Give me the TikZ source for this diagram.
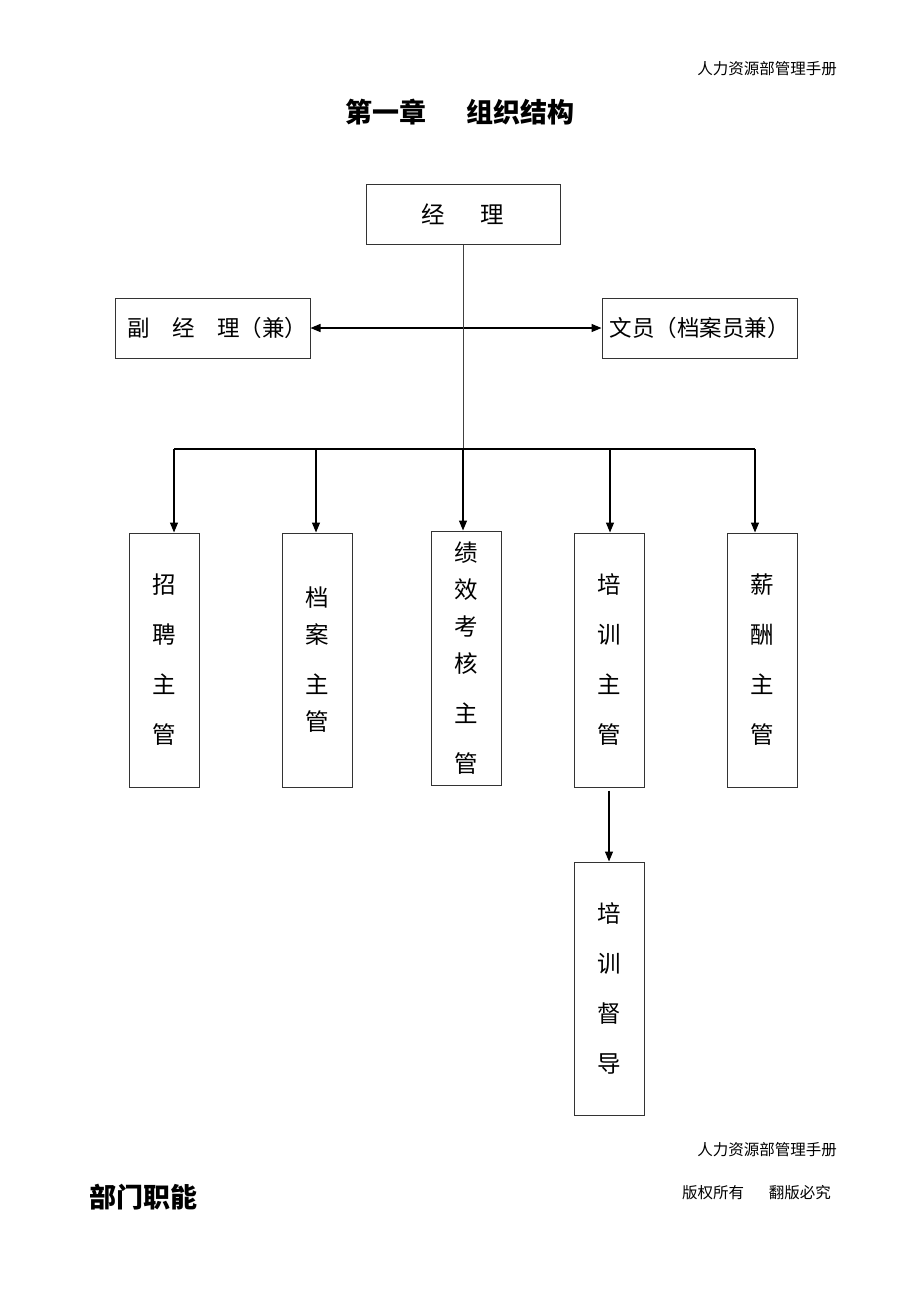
\documentclass[tikz,border=0pt]{standalone}
\usepackage{fontspec}
\setmainfont{Noto Sans CJK SC}
\usepackage{tikz}
\usetikzlibrary{arrows.meta,positioning}

\begin{document}
\begin{tikzpicture}[
  x=1pt, y=-1pt,
  box/.style={draw=black!80, line width=1pt, inner sep=0pt, align=center,
              font=\fontsize{23.5}{24}\selectfont},
  wide/.style={box, minimum width=195pt, minimum height=60pt,
               font=\fontsize{22.5}{24}\selectfont},
  tall/.style={box, minimum width=70pt, minimum height=254pt,
               font=\fontsize{23.5}{50}\selectfont},
  head/.style={font=\fontsize{15.5}{16}\selectfont, anchor=east, inner sep=0pt},
  big/.style={font=\fontsize{27}{28}\selectfont\bfseries, inner sep=0pt},
  ln/.style={draw=black!75, line width=1pt},
  tip/.tip={Triangle[length=10pt, width=8pt]},
  ar/.style={-tip, line width=1.3pt},
]
\useasboundingbox (0,0) rectangle (920,1302);

% ---------------- page head ----------------
\node[head] (hd) at (837,69) {人力资源部管理手册};
\node[big] (title) at (460,112) {第一章\hspace{1.5em}组织结构};

% ---------------- top level ----------------
\node[wide, minimum width=194pt, font=\fontsize{23.5}{24}\selectfont]
  (mgr) at (463,214) {经\hspace{1.5em}理};
\node[wide] (fu) at (212.5,328) {\hspace{10pt}副\hspace{1em}经\hspace{1em}理（兼）};
\node[wide] (wy) at (699.5,328) {文员（档案员兼）};

\draw[tip-tip, line width=1.3pt] (fu.east) -- (wy.west);

% ---------------- supervisors ----------------
\node[tall] (zp) at (164,660) {招\\聘\\主\\管};
\node[tall] (da) at (317,660) {档\\[-13pt]案\\主\\[-13pt]管};
\node[tall] (jx) at (466,658) {绩\\[-13pt]效\\[-13pt]考\\[-13pt]核\\主\\管};
\node[tall] (px) at (609,660) {培\\训\\主\\管};
\node[tall] (xc) at (762,660) {薪\\酬\\主\\管};
\node[tall, minimum height=253pt] (pd) at (609,988.5) {培\\训\\督\\导};

% bus from the manager
\coordinate (b1) at (174,449);
\coordinate (b2) at (316,449);
\coordinate (b3) at (463,449);
\coordinate (b4) at (610,449);
\coordinate (b5) at (755,449);
\draw[ln] (mgr.south) -- (b3);
\draw[line width=1.3pt] (b1) -- (b5);

\draw[ar] (b1) -- (b1 |- zp.north);
\draw[ar] (b2) -- (b2 |- da.north);
\draw[ar] (b3) -- (b3 |- jx.north);
\draw[ar] (b4) -- (b4 |- px.north);
\draw[ar] (b5) -- (b5 |- xc.north);

\draw[ar, shorten <=3pt] (px.south) -- (pd.north);

% ---------------- page foot ----------------
\node[head] (hd2) at (837,1150) {人力资源部管理手册};
\node[big, anchor=west] (bm) at (89,1197) {部门职能};
\node[head] (cp) at (831,1193) {版权所有\hspace{1.6em}翻版必究};
\end{tikzpicture}
\end{document}
